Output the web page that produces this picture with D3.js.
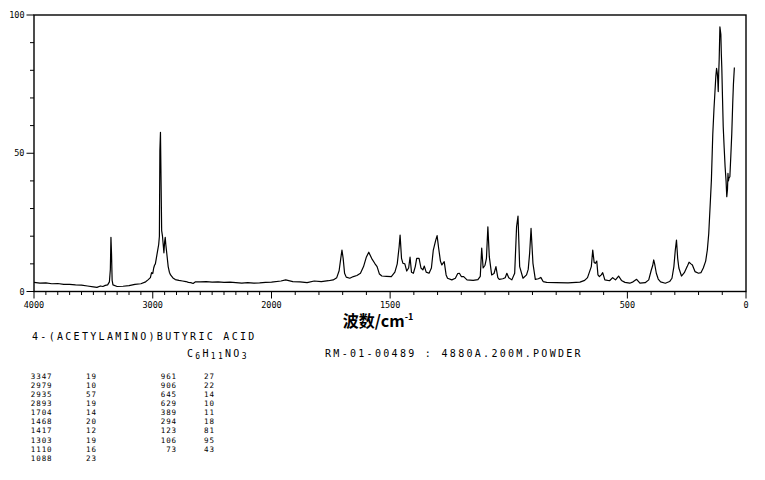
<!DOCTYPE html>
<html><head><meta charset="utf-8">
<script src="https://cdn.jsdelivr.net/npm/d3@7/dist/d3.min.js"></script>
<style>body{margin:0;background:#fff}svg{display:block}</style>
</head><body>
<svg id="c" width="765" height="480"></svg>
<script>
// ---- data ----
const wavenumbers = [4000,3950,3900,3850,3800,3750,3700,3650,3600,3550,3500,3470,3440,3420,3400,3380,3365,3357,3352,3347,3342,3335,3300,3250,3200,3150,3100,3060,3040,3020,3010,3000,2992,2985,2978,2970,2960,2950,2944,2940,2935,2930,2925,2918,2912,2906,2900,2895,2890,2880,2870,2860,2850,2830,2810,2780,2750,2720,2700,2680,2660,2640,2600,2550,2500,2450,2400,2350,2300,2250,2200,2150,2100,2050,2000,1960,1940,1910,1880,1850,1820,1790,1760,1740,1725,1715,1708,1703,1698,1692,1685,1670,1655,1640,1625,1612,1600,1590,1578,1565,1555,1545,1535,1515,1495,1480,1470,1462,1458,1452,1446,1438,1430,1422,1416,1410,1402,1394,1388,1378,1370,1362,1356,1348,1336,1326,1318,1308,1302,1296,1288,1282,1272,1264,1258,1240,1225,1215,1208,1200,1190,1176,1150,1130,1120,1114,1108,1100,1094,1088,1082,1072,1062,1054,1046,1040,1025,1015,1008,1000,987,975,967,961,954,940,925,918,912,906,898,888,875,865,855,840,800,750,700,680,668,660,652,646,640,635,629,624,618,610,604,595,575,562,550,537,525,510,490,476,461,447,425,410,400,393,389,384,378,370,360,340,322,312,304,298,293,288,283,272,260,248,240,232,226,215,200,190,180,170,163,157,150,146,140,135,131,127,124,121,119,117,115,113,110,106,104,102,99,96,92,88,84,81,78,76,74,72,68,64,60,56,53,49];
const intensities = [3.3,3.0,3.1,2.8,2.9,2.6,2.6,2.4,2.3,2.0,1.7,1.5,2.0,1.8,2.2,2.4,3.5,8,19.6,13.5,4,2.4,1.8,1.9,2.1,2.6,2.8,3.5,4.2,5.0,6.8,6.5,8.5,9.5,10.0,12,14.5,17,20,51,57.6,40,22,20,17,14,18,19.6,17,13,9,7,6,4.9,4.3,4.0,3.8,3.6,3.3,3.2,2.9,3.5,3.5,3.6,3.4,3.5,3.3,3.4,3.2,3.0,3.2,3.0,3.1,3.3,3.4,3.8,4.2,3.6,3.5,3.2,3.8,3.6,3.9,4.2,5.0,7.5,12,15,12,6.6,5.2,4.8,5.4,5.8,6.6,9,12.5,14.2,12,10.2,9.0,6.3,5.6,5.5,5.4,7.0,10,16.2,20.4,12,10.2,10,7.4,8.5,12.4,7,6.6,9,12,12,8.5,7.8,9.2,7.0,6.6,8.5,15,18.5,20.2,16,11,9.6,10.8,6,4.8,4.2,4.8,6.5,6.6,5.4,5.4,4.2,4.0,4.3,5.5,15.7,8.5,9.5,12,23.4,12.6,6.0,6.5,9,5,4.4,4.6,5.0,6.6,5.0,4.2,6.6,23.4,27.3,9,4.8,6,8,13.8,22.8,10.2,4.4,4.6,5.1,3.6,3.3,3.2,3.1,3.4,4.0,5.0,7,9,15,10.5,10.2,11,6,5.4,6.0,6.8,4.2,3.9,5.0,4.2,5.6,4.0,3.3,3.0,3.5,4.4,3.0,3.2,4.2,7.5,9.5,11.4,9.5,6.6,4.5,3.5,3.0,3.6,4.8,9,15,18.6,12,8.5,5.6,6.8,9,10.6,10,9.6,7.2,6.6,6.8,8.5,11,15,21,33,40,57,66,72,78,80.7,79,76.5,72.3,79,84,95.7,93,86,81,70,59.6,52,45,40,34.3,37,42.7,40,41,41.5,49,57,68,75,81];
const xTickLabels = [4000,3000,2000,1500,500,0];
const yTickLabels = [0,50,100];
const peakWavenumbers = [3347,2979,2935,2893,1704,1468,1417,1303,1110,1088,961,906,645,629,389,294,123,106,73];
const peakIntensities = [19,10,57,19,14,20,12,19,16,23,27,22,14,10,11,18,81,95,43];
const compoundName = "4-(ACETYLAMINO)BUTYRIC ACID";
const sampleInfo = "RM-01-00489 : 4880A.200M.POWDER";

// ---- drawing ----
const svg = d3.select("#c");
const x = d3.scaleLinear().domain([4000, 2000, 0]).range([34, 271.5, 746]);
const y = d3.scaleLinear().domain([0, 100]).range([291.5, 15]);
const mono = "'DejaVu Sans Mono', 'Liberation Mono', monospace";

// ticks
const gx = svg.append("g");
gx.selectAll("line").data(d3.range(0, 4001, 100)).join("line")
  .attr("x1", d => x(d)).attr("x2", d => x(d))
  .attr("y1", y(0)).attr("y2", d => xTickLabels.includes(d) ? y(0) + 7 : y(0) + 3.5)
  .attr("stroke", "#000").attr("stroke-width", 1);
gx.selectAll("text").data(xTickLabels).join("text")
  .attr("x", d => x(d)).attr("y", 307.5)
  .attr("text-anchor", "middle").attr("font-family", mono).attr("font-size", 8.5)
  .text(d => d);

const gy = svg.append("g");
gy.selectAll("line").data(d3.range(0, 101, 10)).join("line")
  .attr("x1", d => yTickLabels.includes(d) ? 26.5 : 30).attr("x2", 34)
  .attr("y1", d => y(d)).attr("y2", d => y(d))
  .attr("stroke", "#000").attr("stroke-width", 1);
gy.selectAll("text").data(yTickLabels).join("text")
  .attr("x", 24.5).attr("y", d => y(d) + 3)
  .attr("text-anchor", "end").attr("font-family", mono).attr("font-size", 8.5)
  .text(d => d);

// frame
svg.append("rect").attr("x", x(4000)).attr("y", y(100))
  .attr("width", x(0) - x(4000)).attr("height", y(0) - y(100))
  .attr("fill", "none").attr("stroke", "#000").attr("stroke-width", 1.4);

// spectrum
const pts = wavenumbers.map((w, i) => [w, intensities[i]]);
svg.append("path").datum(pts)
  .attr("d", d3.line().x(d => x(d[0])).y(d => y(d[1])))
  .attr("fill", "none").attr("stroke", "#000").attr("stroke-width", 1.2)
  .attr("stroke-linejoin", "round");

// axis title
const at = svg.append("text").attr("x", 378).attr("y", 327)
  .attr("text-anchor", "middle").attr("font-family", "'Noto Sans CJK SC', sans-serif")
  .attr("font-weight", "bold").attr("font-size", 16);
at.append("tspan").text("波数/cm");
at.append("tspan").attr("font-size", 9).attr("dy", -7).text("-1");

// header texts
svg.append("text").attr("x", 32).attr("y", 340)
  .attr("font-family", mono).attr("font-size", 10).attr("letter-spacing", 2.3)
  .text(compoundName);
const f = svg.append("text").attr("x", 187).attr("y", 356.5)
  .attr("font-family", mono).attr("font-size", 10).attr("letter-spacing", 2.3);
[["C",0],["6",1],["H",0],["11",1],["NO",0],["3",1]].forEach(([t, s], k) => {
  const ts = f.append("tspan").text(t);
  if (s) ts.attr("font-size", 8).attr("dy", 2.5); else ts.attr("dy", k > 0 ? -2.5 : 0);
});
svg.append("text").attr("x", 325).attr("y", 356.5)
  .attr("font-family", mono).attr("font-size", 10).attr("letter-spacing", 2.3)
  .text(sampleInfo);

// peak table
const tbl = svg.append("g").attr("font-family", mono).attr("font-size", 7.5).attr("letter-spacing", 0.9);
peakWavenumbers.forEach((w, i) => {
  const col = i < 10 ? 0 : 1;
  const row = col ? i - 10 : i;
  const yy = 378.8 + row * 9.1;
  tbl.append("text").attr("x", col ? 177 : 52.5).attr("y", yy).attr("text-anchor", "end").text(w);
  tbl.append("text").attr("x", col ? 204 : 86).attr("y", yy).text(peakIntensities[i]);
});
</script>
</body></html>
